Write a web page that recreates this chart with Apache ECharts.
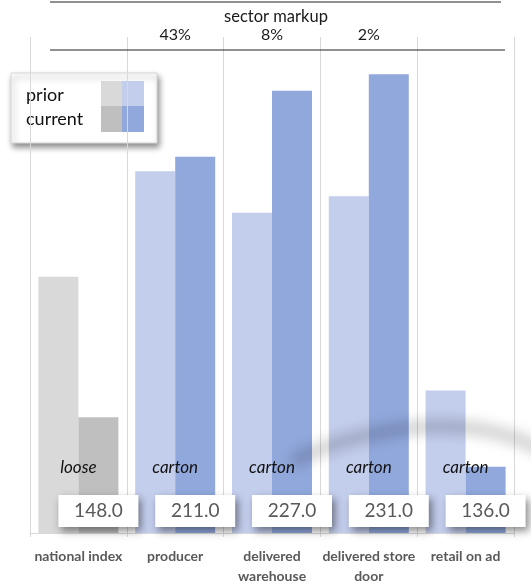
<!DOCTYPE html>
<html>
<head>
<meta charset="utf-8">
<script src="https://cdn.jsdelivr.net/npm/echarts@6/dist/echarts.min.js"></script>
<style>
  html, body { margin: 0; padding: 0; background: #fff; }
  #chart { width: 531px; height: 582px; }
</style>
</head>
<body>
<div id="chart"></div>
<script>
// Price chain: prior vs current price per stage, with sector markup between stages
const categories = ['national index', 'producer', 'delivered\nwarehouse', 'delivered store\ndoor', 'retail on ad'];
const priorValues = [182.0, 207.5, 197.5, 201.5, 154.5];
const currentValues = [148.0, 211.0, 227.0, 231.0, 136.0];
const packaging = ['loose', 'carton', 'carton', 'carton', 'carton'];
const markupLabels = ['', '43%', '8%', '2%', ''];

const FONT = 'Lato';
const greyPrior = '#d9d9d9', greyCurrent = '#bfbfbf';
const bluePrior = '#c3cdec', blueCurrent = '#91a8dd';

// the soft streak is drawn as the shadow of a stroke that sits off-canvas
const SHADOW_SHIFT = 2000;

const chart = echarts.init(document.getElementById('chart'), null, { renderer: 'canvas' });

chart.setOption({
  animation: false,
  textStyle: { fontFamily: FONT },
  grid: { left: 30, right: 17, top: 37, bottom: 49, outerBoundsMode: 'none', containLabel: false },
  xAxis: [
    {
      type: 'category',
      data: categories,
      axisLine: { lineStyle: { color: '#d9d9d9', width: 1 } },
      axisTick: { show: true, length: 4, lineStyle: { color: '#d9d9d9' } },
      splitLine: { show: true, lineStyle: { color: '#d9d9d9', width: 1 } },
      axisLabel: {
        interval: 0,
        color: '#595959',
        fontFamily: FONT,
        fontWeight: 'bold',
        fontSize: 14,
        lineHeight: 20,
        margin: 13
      }
    },
    {
      type: 'category',
      position: 'top',
      data: markupLabels,
      axisLine: { show: false },
      axisTick: { show: false },
      axisLabel: {
        interval: 0,
        color: '#1a1a1a',
        fontFamily: FONT,
        fontSize: 16,
        margin: -6
      }
    }
  ],
  yAxis: {
    type: 'value',
    min: 120,
    max: 240,
    show: false,
    splitLine: { show: false }
  },
  series: [
    {
      name: 'prior',
      type: 'bar',
      data: priorValues,
      barWidth: 40,
      barGap: '0%',
      itemStyle: {
        color: (p) => (p.dataIndex === 0 ? greyPrior : bluePrior)
      },
      label: {
        show: true,
        position: 'insideBottom',
        distance: 57,
        offset: [20, 0],
        formatter: (p) => packaging[p.dataIndex],
        color: '#111',
        fontFamily: FONT,
        fontStyle: 'italic',
        fontSize: 17
      }
    },
    {
      name: 'current',
      type: 'bar',
      data: currentValues,
      barWidth: 40,
      itemStyle: {
        color: (p) => (p.dataIndex === 0 ? greyCurrent : blueCurrent)
      },
      label: {
        show: true,
        position: 'insideBottom',
        distance: 6,
        formatter: (p) => p.value.toFixed(1),
        color: '#595959',
        fontFamily: FONT,
        fontSize: 19,
        lineHeight: 22,
        width: 80,
        align: 'center',
        padding: [5, 0, 5, 0],
        backgroundColor: '#ffffff',
        shadowColor: 'rgba(0,0,0,0.45)',
        shadowBlur: 8,
        shadowOffsetX: 3,
        shadowOffsetY: 4
      }
    }
  ],
  graphic: [
    // soft curved shadow streak across the right-hand bars
    {
      type: 'bezierCurve', z: 5, silent: true,
      shape: {
        x1: 292, y1: 462 - SHADOW_SHIFT,
        cpx1: 370, cpy1: 422 - SHADOW_SHIFT,
        cpx2: 480, cpy2: 412 - SHADOW_SHIFT,
        x2: 545, y2: 452 - SHADOW_SHIFT
      },
      style: {
        stroke: '#000', lineWidth: 11, fill: null,
        shadowColor: 'rgba(0,0,0,0.22)', shadowBlur: 14,
        shadowOffsetX: 0, shadowOffsetY: SHADOW_SHIFT
      }
    },
    // top rules and the markup caption
    { type: 'line', shape: { x1: 50, y1: 2, x2: 501, y2: 2 }, style: { stroke: '#222', lineWidth: 1.2 }, z: 10 },
    { type: 'line', shape: { x1: 50, y1: 50, x2: 505, y2: 50 }, style: { stroke: '#222', lineWidth: 1.2 }, z: 10 },
    {
      type: 'text', x: 276, y: 17, z: 10,
      style: { text: 'sector markup', font: '16.5px ' + FONT, fill: '#1a1a1a', textAlign: 'center', textVerticalAlign: 'middle' }
    },
    // legend box
    {
      type: 'group', x: 11, y: 73, z: 20,
      children: [
        {
          type: 'rect', shape: { x: 0, y: 0, width: 146, height: 70 },
          style: { fill: '#fff', stroke: '#d6d6d6', lineWidth: 1, shadowColor: 'rgba(0,0,0,0.45)', shadowBlur: 6, shadowOffsetX: 2, shadowOffsetY: 4 }
        },
        { type: 'text', x: 15, y: 22, style: { text: 'prior', font: '18px ' + FONT, fill: '#111', textVerticalAlign: 'middle' } },
        { type: 'text', x: 15, y: 46, style: { text: 'current', font: '18px ' + FONT, fill: '#111', textVerticalAlign: 'middle' } },
        { type: 'rect', shape: { x: 90, y: 8, width: 21, height: 25 }, style: { fill: greyPrior } },
        { type: 'rect', shape: { x: 111, y: 8, width: 22, height: 25 }, style: { fill: bluePrior } },
        { type: 'rect', shape: { x: 90, y: 33, width: 21, height: 26 }, style: { fill: greyCurrent } },
        { type: 'rect', shape: { x: 111, y: 33, width: 22, height: 26 }, style: { fill: blueCurrent } }
      ]
    }
  ]
});
</script>
</body>
</html>
